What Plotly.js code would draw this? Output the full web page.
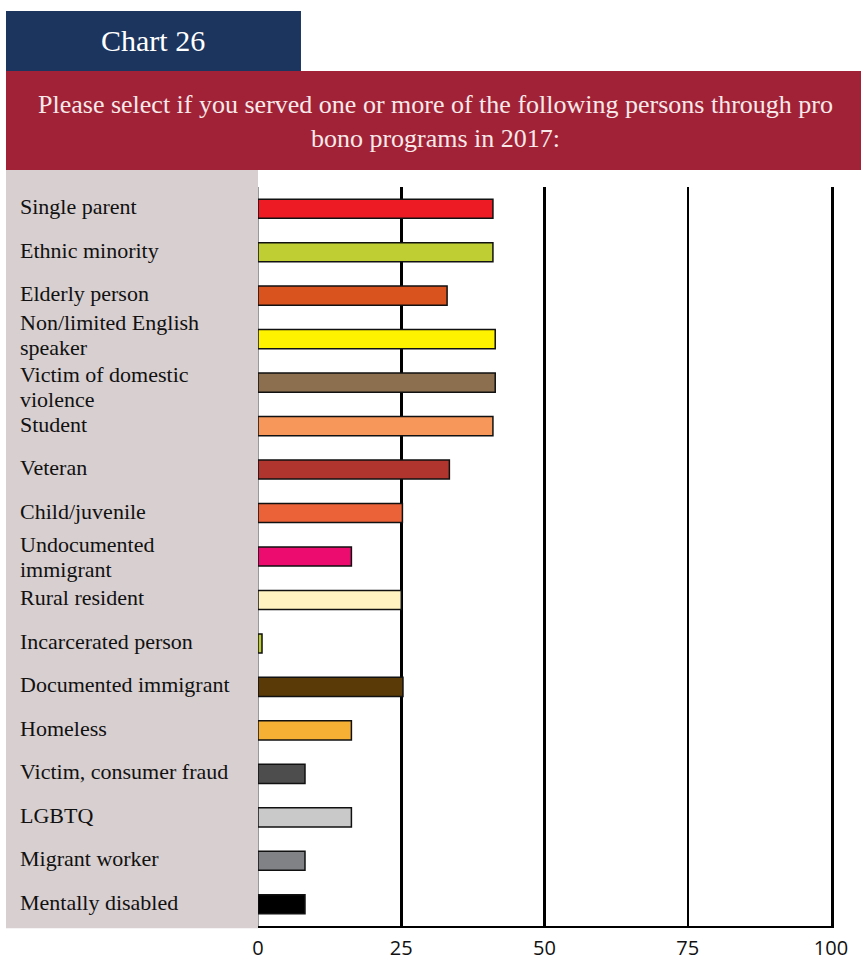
<!DOCTYPE html>
<html>
<head>
<meta charset="utf-8">
<script src="https://cdn.plot.ly/plotly-3.0.1.min.js"></script>
<style>
  body { margin: 0; background: #fff; }
  #chart { width: 861px; height: 960px; }
</style>
</head>
<body>
<div id="chart"></div>
<script>
// data (percent)
var categories = [
  'Single parent', 'Ethnic minority', 'Elderly person', 'Non/limited English speaker',
  'Victim of domestic violence', 'Student', 'Veteran', 'Child/juvenile',
  'Undocumented immigrant', 'Rural resident', 'Incarcerated person',
  'Documented immigrant', 'Homeless', 'Victim, consumer fraud', 'LGBTQ',
  'Migrant worker', 'Mentally disabled'
];
// how each label is broken in the left panel
var labelLines = [
  ['Single parent'], ['Ethnic minority'], ['Elderly person'], ['Non/limited English', 'speaker'],
  ['Victim of domestic', 'violence'], ['Student'], ['Veteran'], ['Child/juvenile'],
  ['Undocumented', 'immigrant'], ['Rural resident'], ['Incarcerated person'],
  ['Documented immigrant'], ['Homeless'], ['Victim, consumer fraud'], ['LGBTQ'],
  ['Migrant worker'], ['Mentally disabled']
];
var values = [41, 41, 33, 41.4, 41.4, 41, 33.4, 25.2, 16.3, 25, 0.7, 25.3, 16.3, 8.2, 16.3, 8.2, 8.2];
var barColors = [
  '#ED1C24', '#BFCF33', '#D9531E', '#FFF200', '#8B6F4E', '#F7975A', '#B0352F', '#EB6239',
  '#EC0B6E', '#FFF4C1', '#BFCF33', '#5A3A06', '#F6B135', '#4D4D4D', '#C9C9C9', '#808285', '#000000'
];
var tickVals = [0, 25, 50, 75, 100];

var serif = 'Liberation Serif, DejaVu Serif, serif';

var trace = {
  type: 'bar',
  orientation: 'h',
  x: values,
  y: categories,
  marker: {color: barColors, line: {color: '#111', width: 1.5}},
  hoverinfo: 'x+y'
};

// line offsets for the wrapped labels (pixels), nudged apart where two
// wrapped labels sit next to each other
var wrapShift = {3: [17, -8], 4: [8, -17], 8: [12, -13]};

// left hand labels, one annotation per line so the lines sit tight
var labelNotes = [];
categories.forEach(function(c, i) {
  var lines = labelLines[i];
  lines.forEach(function(t, j) {
    var shift = lines.length > 1 ? wrapShift[i][j] : 2;
    labelNotes.push({
      xref: 'paper', yref: 'y', x: -0.418, y: c, yshift: shift,
      xanchor: 'left', yanchor: 'middle',
      text: t, showarrow: false, align: 'left',
      font: {family: serif, size: 22, color: '#111'}
    });
  });
});

var layout = {
  width: 861,
  height: 960,
  margin: {l: 258, r: 30, t: 187, b: 34},
  paper_bgcolor: '#fff',
  plot_bgcolor: '#fff',
  showlegend: false,
  bargap: 0.56,
  xaxis: {
    range: [0, 100],
    tickvals: tickVals,
    showgrid: true,
    gridcolor: '#000',
    gridwidth: 2.5,
    zeroline: true,
    zerolinecolor: '#999',
    zerolinewidth: 1,
    showline: true,
    linecolor: '#000',
    linewidth: 2,
    ticks: 'outside',
    ticklen: 3,
    tickcolor: 'rgba(0,0,0,0)',
    tickfont: {family: 'Open Sans, Lato, sans-serif', size: 20, color: '#111'},
    fixedrange: true
  },
  yaxis: {
    type: 'category',
    autorange: 'reversed',
    side: 'right',
    showline: true,
    linecolor: '#000',
    linewidth: 2.5,
    showticklabels: false,
    showgrid: false,
    zeroline: false,
    fixedrange: true
  },
  shapes: [
    // navy header tab
    {type: 'rect', xref: 'paper', yref: 'paper', x0: -0.4398, x1: 0.075, y0: 1.157, y1: 1.2382,
      fillcolor: '#1C355E', line: {width: 0}, layer: 'below'},
    // crimson title banner
    {type: 'rect', xref: 'paper', yref: 'paper', x0: -0.4398, x1: 1.0524, y0: 1.023, y1: 1.157,
      fillcolor: '#A12236', line: {width: 0}, layer: 'below'},
    // grey label panel
    {type: 'rect', xref: 'paper', yref: 'paper', x0: -0.4398, x1: 0, y0: -0.003, y1: 1.023,
      fillcolor: '#D8CFD0', line: {width: 0}, layer: 'below'}
  ],
  annotations: [
    {xref: 'paper', yref: 'paper', x: -0.183, y: 1.1976, xanchor: 'center', yanchor: 'middle',
      text: 'Chart 26', showarrow: false,
      font: {family: serif, size: 30, color: '#fff'}},
    {xref: 'paper', yref: 'paper', x: 0.309, y: 1.089, xanchor: 'center', yanchor: 'middle',
      text: 'Please select if you served one or more of the following persons through pro<br>bono programs in 2017:',
      showarrow: false, align: 'center',
      font: {family: serif, size: 26, color: '#F7E9EA'}}
  ].concat(labelNotes)
};

Plotly.newPlot('chart', [trace], layout, {displayModeBar: false, staticPlot: true});
</script>
</body>
</html>
